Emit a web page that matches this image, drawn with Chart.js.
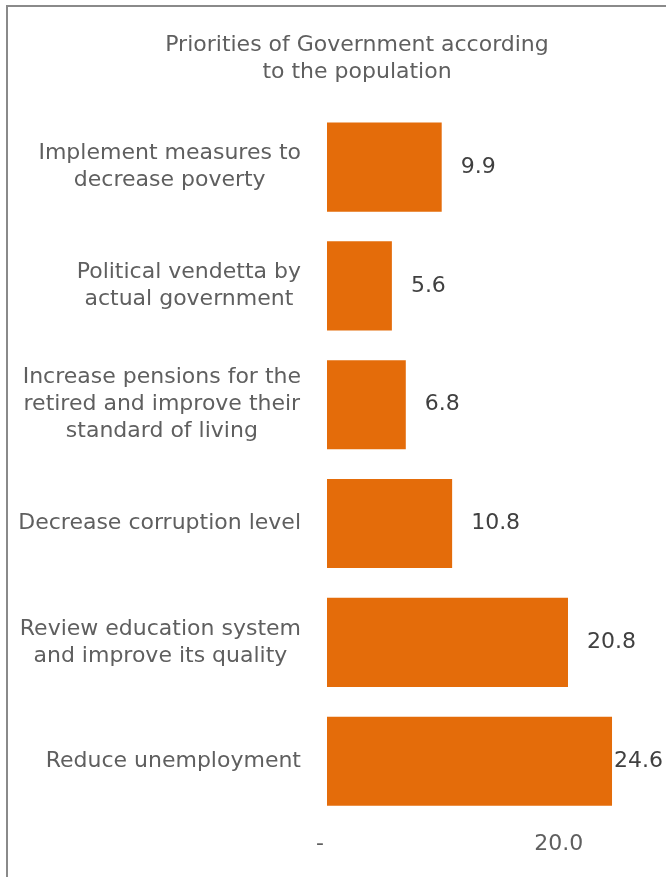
<!DOCTYPE html>
<html lang="en">
<head>
    <meta charset="UTF-8">
    <title>Priorities of Government</title>
    <script src="https://cdn.jsdelivr.net/npm/chart.js"></script>
    <style>
        body { margin: 0; background: #fff; }
        #wrap { position: relative; width: 666px; height: 877px; }
        #frame {
            position: absolute; left: 6px; top: 5px; right: 0; bottom: 0;
            border-top: 2px solid #8a8a8a; border-left: 2px solid #8a8a8a;
            pointer-events: none;
        }
    </style>
</head>
<body>
<div id="wrap">
    <canvas id="priorityChart" width="666" height="877"></canvas>
    <div id="frame"></div>
</div>
<script>
    // chart data
    const categories = [
        ['Implement measures to', 'decrease poverty'],
        ['Political vendetta by', 'actual government'],
        ['Increase pensions for the', 'retired and improve their', 'standard of living'],
        ['Decrease corruption level'],
        ['Review education system', 'and improve its quality'],
        ['Reduce unemployment']
    ];
    const values = [9.9, 5.6, 6.8, 10.8, 20.8, 24.6];
    const xTicks = [0, 20];
    const titleLines = ['Priorities of Government according', 'to the population'];

    const FONT = '"DejaVu Sans"';

    // category labels (centred lines, block right aligned) and value labels
    const labelPlugin = {
        id: 'labelPlugin',
        afterDatasetsDraw(chart) {
            const c = chart.ctx;
            const yScale = chart.scales.y;
            const area = chart.chartArea;
            c.save();
            c.font = '22px ' + FONT;
            c.textBaseline = 'middle';
            c.textAlign = 'center';
            c.fillStyle = '#5f5f5f';
            categories.forEach((lines, i) => {
                const cy = yScale.getPixelForValue(i);
                const w = Math.max(...lines.map(l => c.measureText(l).width));
                const cx = area.left - 26 - w / 2;
                lines.forEach((l, j) => {
                    c.fillText(l, cx, cy + (j - (lines.length - 1) / 2) * 27);
                });
            });
            c.textAlign = 'left';
            c.fillStyle = '#404040';
            chart.getDatasetMeta(0).data.forEach((bar, i) => {
                const t = values[i].toFixed(1);
                const tw = c.measureText(t).width;
                const x = Math.min(bar.x + 19, chart.width - 3 - tw);
                c.fillText(t, x, bar.y);
            });
            c.restore();
        }
    };

    document.addEventListener("DOMContentLoaded", function() {
        const ctx = document.getElementById('priorityChart').getContext('2d');

        const config = {
            type: 'bar',
            data: {
                labels: categories,
                datasets: [{
                    data: values,
                    backgroundColor: '#E46C0A',
                    borderWidth: 0,
                    barPercentage: 0.75,
                    categoryPercentage: 1.0
                }]
            },
            options: {
                indexAxis: 'y',
                responsive: false,
                animation: false,
                layout: { padding: { left: 51, right: 3, top: 0, bottom: 10 } },
                plugins: {
                    legend: { display: false },
                    tooltip: { enabled: false },
                    title: {
                        display: true,
                        text: titleLines,
                        color: '#5f5f5f',
                        font: { family: FONT, size: 22, weight: 'normal', lineHeight: 1.22 },
                        padding: { top: 32, bottom: 22 }
                    }
                },
                scales: {
                    x: {
                        min: 0,
                        max: 29,
                        grid: { display: false, drawTicks: false },
                        border: { display: false },
                        afterBuildTicks: scale => { scale.ticks = xTicks.map(v => ({ value: v })); },
                        ticks: {
                            padding: 10,
                            color: '#5f5f5f',
                            font: { family: FONT, size: 22 },
                            callback: v => v === 0 ? '-  ' : v.toFixed(1)
                        }
                    },
                    y: {
                        grid: { display: false, drawTicks: false },
                        border: { display: false },
                        ticks: { display: false },
                        afterFit: scale => { scale.width = 276; }
                    }
                }
            },
            plugins: [labelPlugin]
        };

        new Chart(ctx, config);
    });
</script>
</body>
</html>
